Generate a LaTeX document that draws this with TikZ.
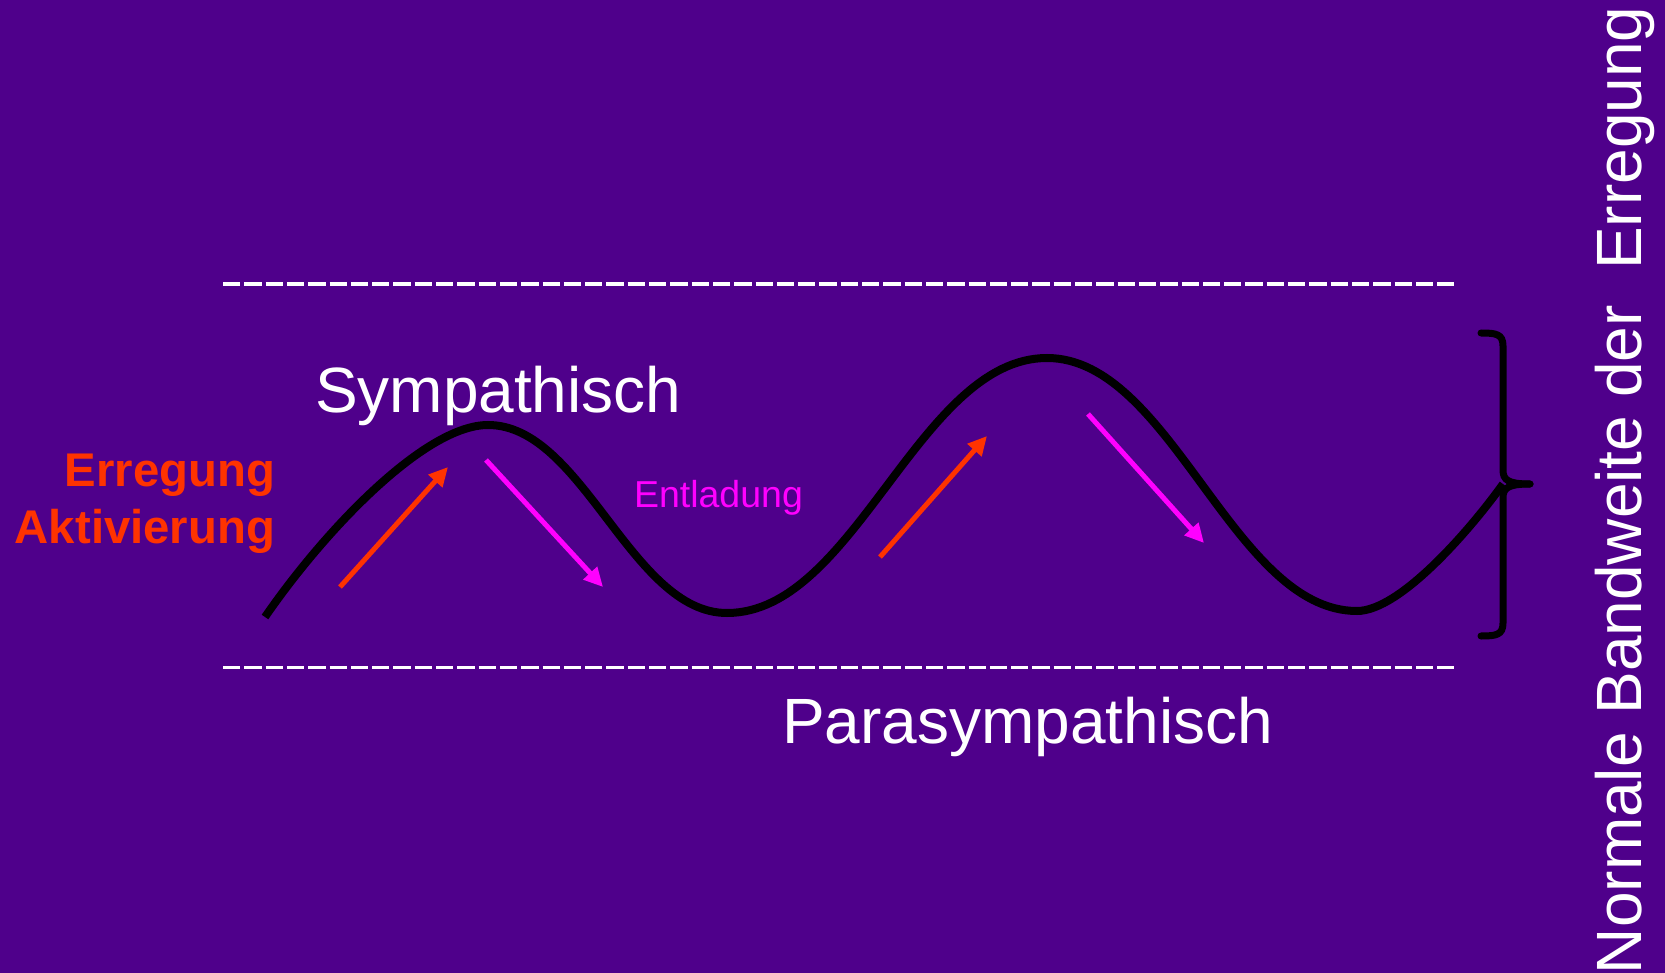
\documentclass[tikz,border=0pt]{standalone}
\usepackage{fontspec}
\setmainfont{Liberation Sans}
\usetikzlibrary{arrows.meta}
\definecolor{bgpurple}{RGB}{79,0,139}
\definecolor{actred}{RGB}{255,51,0}
\definecolor{dismag}{RGB}{255,0,255}
\tikzset{
  lbl/.style={inner sep=0pt, outer sep=0pt, text=white},
  bandline/.style={white, line width=3.5pt, dash pattern=on 17.3pt off 4pt},
  wave/.style={black, line width=8pt},
  bracketline/.style={black, line width=7pt, line cap=round},
  uparrow/.style={actred, line width=5pt, -{Triangle[length=19pt,width=18pt]}},
  downarrow/.style={dismag, line width=5pt, -{Triangle[length=19pt,width=18pt]}},
}
\begin{document}
\begin{tikzpicture}[x=1pt,y=-1pt]
\fill[bgpurple] (0,0) rectangle (1665,973);
\useasboundingbox (0,0) rectangle (1665,973);

% band limits
\coordinate (topL) at (223,284);
\coordinate (topR) at (1454,284);
\coordinate (botL) at (223,667.5);
\coordinate (botR) at (1454,667.5);
\draw[bandline] (topL) -- (topR);
\draw[bandline] (botL) -- (botR);

% wave
\coordinate (w0) at (265,617);
\coordinate (p1) at (488,425);
\coordinate (t1) at (727,613);
\coordinate (p2) at (1047,358);
\coordinate (t2) at (1357,611);
\coordinate (wE) at (1503,484);
\draw[wave] (w0) .. controls (325,530) and (425,425) .. (p1)
  .. controls (583,425) and (631,613) .. (t1)
  .. controls (855,613) and (919,358) .. (p2)
  .. controls (1171,358) and (1233,611) .. (t2)
  .. controls (1400,611) and (1470,530) .. (wE);

% bracket
\coordinate (brT) at (1481,333);
\coordinate (brB) at (1481,636);
\coordinate (brM) at (1530,484);
\draw[bracketline] (brT) .. controls (1496,333) and (1503,334) .. (1503,346)
  -- (1503,470) .. controls (1503,480) and (1508,484) .. (brM);
\draw[bracketline] (brM) .. controls (1508,484) and (1503,488) .. (1503,498)
  -- (1503,623) .. controls (1503,635) and (1496,636) .. (brB);

% arrows
\coordinate (a1s) at (340,587); \coordinate (a1e) at (448,467);
\coordinate (m1s) at (486,460); \coordinate (m1e) at (603,587);
\coordinate (a2s) at (880,557); \coordinate (a2e) at (987,436);
\coordinate (m2s) at (1088,414); \coordinate (m2e) at (1204,543);
\draw[uparrow] (a1s) -- (a1e);
\draw[downarrow] (m1s) -- (m1e);
\draw[uparrow] (a2s) -- (a2e);
\draw[downarrow] (m2s) -- (m2e);

% labels
\node[lbl, anchor=base west, font=\fontsize{64}{64}\selectfont] (symp) at (315,412) {Sympathisch};
\node[lbl, anchor=base west, font=\fontsize{64}{64}\selectfont] (para) at (782,743) {Parasympathisch};
\node[lbl, anchor=base east, text=actred, font=\fontsize{47.3}{47.3}\selectfont\bfseries] (erreg) at (275,486) {Erregung};
\node[lbl, anchor=base east, text=actred, font=\fontsize{47.3}{47.3}\selectfont\bfseries] (aktiv) at (275,543) {Aktivierung};
\node[lbl, anchor=base west, text=dismag, font=\fontsize{37.5}{37.5}\selectfont] (entl) at (634,507) {Entladung};
\node[lbl, anchor=base west, rotate=90, font=\fontsize{64}{64}\selectfont] (band) at (1641,974) {Normale Bandweite der\ \ Erregung};
\end{tikzpicture}
\end{document}
